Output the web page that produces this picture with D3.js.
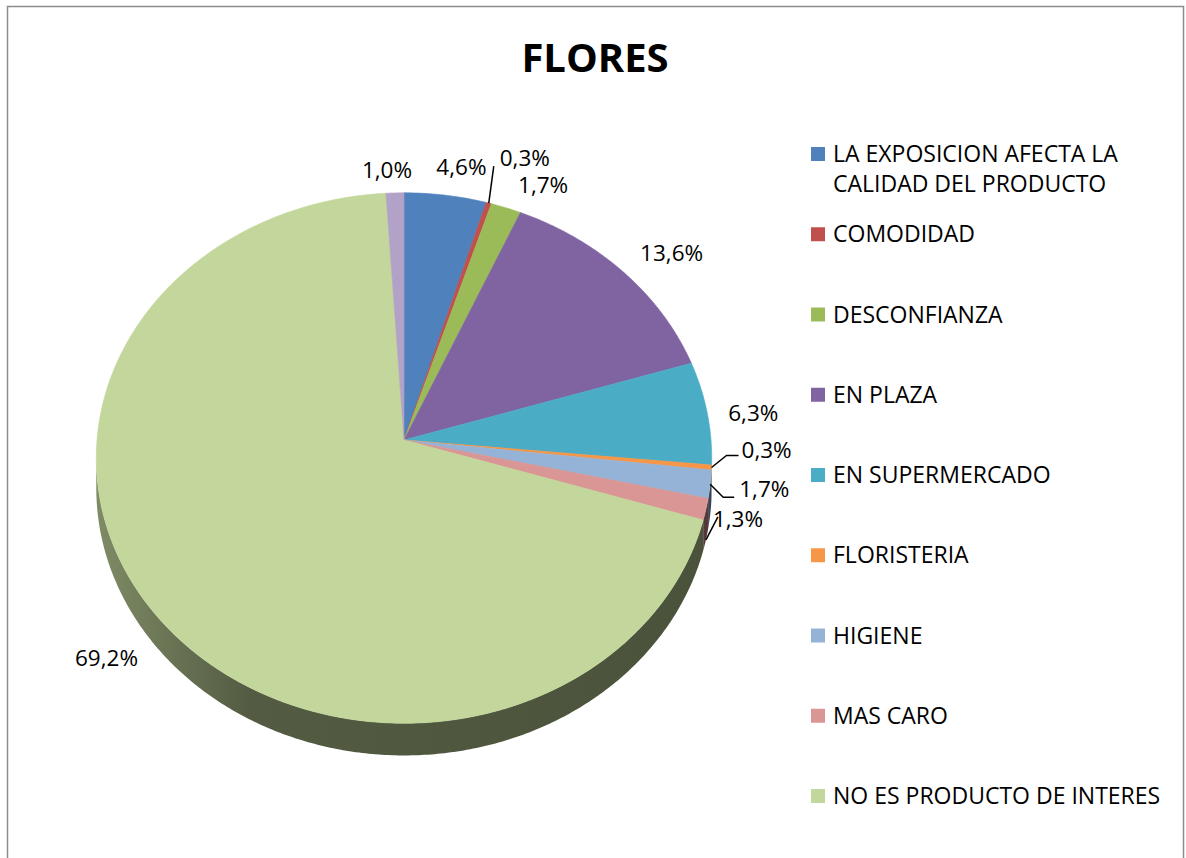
<!DOCTYPE html>
<html>
<head>
<meta charset="utf-8">
<script src="https://cdn.jsdelivr.net/npm/d3@7"></script>
<style>
  body { margin: 0; background: #fff; }
  text { font-family: "Open Sans", Lato, sans-serif; fill: #000; }
</style>
</head>
<body>
<div class="chart"></div>
<script>
var svgWidth = 1186;
var svgHeight = 858;

// Data
// ==============================
var categories = [
  "LA EXPOSICION AFECTA LA CALIDAD DEL PRODUCTO",
  "COMODIDAD",
  "DESCONFIANZA",
  "EN PLAZA",
  "EN SUPERMERCADO",
  "FLORISTERIA",
  "HIGIENE",
  "MAS CARO",
  "NO ES PRODUCTO DE INTERES",
  "OTROS"
];
var values = [4.6, 0.3, 1.7, 13.6, 6.3, 0.3, 1.7, 1.3, 69.2, 1.0];
var labels = ["4,6%", "0,3%", "1,7%", "13,6%", "6,3%", "0,3%", "1,7%", "1,3%", "69,2%", "1,0%"];
var legendLines = [
  ["LA EXPOSICION AFECTA LA", "CALIDAD DEL PRODUCTO"],
  ["COMODIDAD"], ["DESCONFIANZA"], ["EN PLAZA"], ["EN SUPERMERCADO"],
  ["FLORISTERIA"], ["HIGIENE"], ["MAS CARO"], ["NO ES PRODUCTO DE INTERES"]
];
var colors = ["#4F81BD", "#C0504D", "#9BBB59", "#8064A2", "#4BACC6",
              "#F79646", "#95B3D7", "#D99694", "#C3D69B", "#B3A2C7"];

// label placement relative to the slice edge (layout only)
var labelLayout = [
  { dx: 16, dy: -28, anchor: "middle" },
  { dx: 11, dy: -45, anchor: "start", leader: [[5, -37]] },
  { dx: 12, dy: -23, anchor: "start" },
  { dx: 17, dy: -19, anchor: "start" },
  { dx: 21, dy: 0, anchor: "start" },
  { dx: 30, dy: -17, anchor: "start", leader: [[15, -12], [27, -12]] },
  { dx: 29, dy: 5, anchor: "start", leader: [[13, 13], [24, 13]] },
  { dx: 7, dy: -21, anchor: "start", depth: true, leader: [[12, -23]] },
  { dx: -14, dy: 17, anchor: "end", depth: true },
  { dx: -8, dy: -23, anchor: "middle" }
];

// Geometry of the tilted pie
// ==============================
var cx = 404, cy = 440, rx = 307, ry = 264, persp = 0.068, depth = 30;

function proj(a, r) {
  var u = r * Math.sin(a), v = -r * Math.cos(a);
  var s = 1 / (1 - persp * v);
  return { x: cx + rx * u * s, y: cy + ry * v * s, s: s };
}

var svg = d3.select(".chart")
  .append("svg")
  .attr("width", svgWidth)
  .attr("height", svgHeight);

var defs = svg.append("defs");

// frame
svg.append("rect")
  .attr("x", 7.5).attr("y", 6.5)
  .attr("width", 1176).attr("height", 900)
  .attr("fill", "none")
  .attr("stroke", "#8c8c8c")
  .attr("stroke-width", 1.5);

// title
svg.append("text")
  .attr("x", 595)
  .attr("y", 72)
  .attr("text-anchor", "middle")
  .style("font-size", "40px")
  .style("font-weight", "bold")
  .text("FLORES");

var pie = d3.pie().sort(null).value(d => d)(values);

function arcPoints(a0, a1, r, dy) {
  var n = Math.max(2, Math.ceil((a1 - a0) / 0.01));
  return d3.range(n + 1).map(function (i) {
    var p = proj(a0 + (a1 - a0) * i / n, r);
    return [p.x, p.y + (dy ? dy * p.s : 0)];
  });
}

// Side walls
// ==============================
var visA = Math.PI / 2 + Math.asin(persp);
var visB = 3 * Math.PI / 2 - Math.asin(persp);
var sideGroup = svg.append("g");

pie.forEach(function (d, i) {
  var a0 = Math.max(d.startAngle, visA), a1 = Math.min(d.endAngle, visB);
  if (a1 <= a0) return;
  var base = d3.color(colors[i]);
  var gid = "side" + i;
  var g = defs.append("linearGradient")
    .attr("id", gid)
    .attr("gradientUnits", "userSpaceOnUse")
    .attr("x1", cx - rx).attr("x2", cx + rx)
    .attr("y1", 0).attr("y2", 0);
  g.append("stop").attr("offset", 0).attr("stop-color", base.darker(1.2));
  g.append("stop").attr("offset", 0.25).attr("stop-color", base.darker(2.4));
  g.append("stop").attr("offset", 1).attr("stop-color", base.darker(2.7));
  var top = arcPoints(a0, a1, 1, 0);
  var bottom = arcPoints(a0, a1, 1, depth).reverse();
  sideGroup.append("path")
    .attr("d", d3.line()(top.concat(bottom)) + "Z")
    .attr("fill", "url(#" + gid + ")");
});

// Top faces
// ==============================
svg.append("g").selectAll("path")
  .data(pie)
  .enter()
  .append("path")
  .attr("d", function (d) {
    var pts = [[cx, cy]].concat(arcPoints(d.startAngle, d.endAngle, 1, 0));
    return d3.line()(pts) + "Z";
  })
  .attr("fill", (d, i) => colors[i])
  .attr("stroke", (d, i) => colors[i])
  .attr("stroke-width", 0.6);

// Data labels
// ==============================
var labelGroup = svg.append("g");
pie.forEach(function (d, i) {
  var m = (d.startAngle + d.endAngle) / 2;
  var e = proj(m, 1);
  var lay = labelLayout[i];
  var ex = e.x, ey = e.y + (lay.depth ? depth * e.s : 0);
  if (lay.leader) {
    var pts = [[ex, ey]].concat(lay.leader.map(p => [ex + p[0], ey + p[1]]));
    labelGroup.append("path")
      .attr("d", d3.line()(pts))
      .attr("fill", "none")
      .attr("stroke", "#000")
      .attr("stroke-width", 1.5);
  }
  labelGroup.append("text")
    .attr("x", ex + lay.dx)
    .attr("y", ey + lay.dy)
    .attr("dy", "0.35em")
    .attr("text-anchor", lay.anchor)
    .style("font-size", "22.5px")
    .text(labels[i]);
});

// Legend
// ==============================
var legendY = d3.scaleLinear().domain([0, 8]).range([154, 796]);
var legend = svg.append("g").selectAll("g")
  .data(legendLines)
  .enter()
  .append("g")
  .attr("transform", (d, i) => `translate(811, ${legendY(i)})`);

legend.append("rect")
  .attr("x", 0).attr("y", -7)
  .attr("width", 14).attr("height", 14)
  .attr("fill", (d, i) => colors[i]);

legend.append("text")
  .attr("x", 22)
  .attr("y", 0)
  .style("font-size", "23px")
  .selectAll("tspan")
  .data(d => d)
  .enter()
  .append("tspan")
  .attr("x", 22)
  .attr("y", (d, j) => j * 30)
  .attr("dy", "0.35em")
  .text(d => d);
</script>
</body>
</html>
